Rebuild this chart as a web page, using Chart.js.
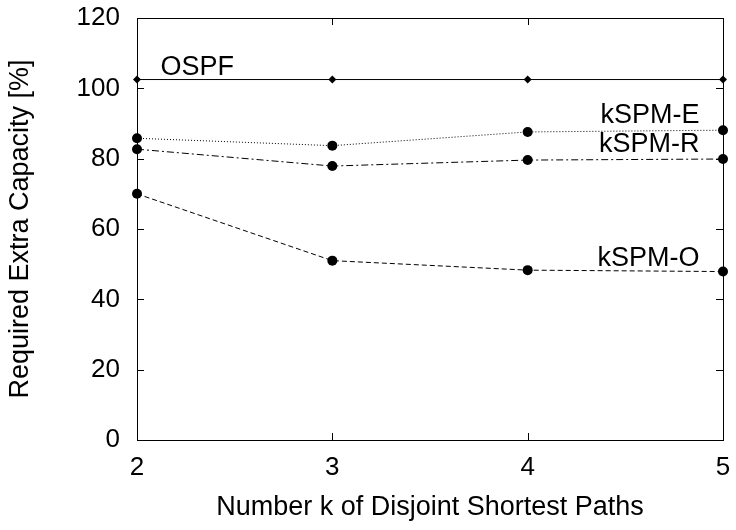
<!DOCTYPE html>
<html>
<head>
<meta charset="utf-8">
<script src="https://cdn.jsdelivr.net/npm/chart.js@4/dist/chart.umd.min.js"></script>
<style>
  html,body{margin:0;padding:0;background:#fff;}
  #wrap{width:736px;height:530px;}
</style>
</head>
<body>
<div id="wrap"><canvas id="chart"></canvas></div>
<script>
// k = number of disjoint shortest paths
const K_VALUES = [2, 3, 4, 5];
const OSPF   = [102.5, 102.5, 102.5, 102.5];
const KSPM_E = [85.8, 83.7, 87.6, 88.1];
const KSPM_R = [82.7, 77.9, 79.6, 79.9];
const KSPM_O = [70.0, 51.0, 48.3, 47.9];
const Y_TICKS = [0, 20, 40, 60, 80, 100, 120];

// series captions, anchored in data coordinates
const CAPTIONS = [
  { text:"OSPF",   x:2.12, y:105.8, align:"left"  },
  { text:"kSPM-E", x:4.88, y:92.4,  align:"right" },
  { text:"kSPM-R", x:4.88, y:83.9,  align:"right" },
  { text:"kSPM-O", x:4.88, y:51.7,  align:"right" }
];

const FONT = "'Liberation Sans', Arial, Helvetica, sans-serif";
const pts = arr => arr.map((v,i)=>({x:K_VALUES[i], y:v}));

// frame with inward ticks on all four sides (gnuplot look)
const framePlugin = {
  id:"frame",
  afterDatasetsDraw(chart){
    const { ctx, chartArea:a, scales } = chart;
    ctx.save();
    ctx.strokeStyle="#000"; ctx.lineWidth=1;
    ctx.strokeRect(Math.round(a.left)+0.5, Math.round(a.top)+0.5,
                   Math.round(a.right-a.left), Math.round(a.bottom-a.top));
    const L=7;
    ctx.beginPath();
    Y_TICKS.forEach(v=>{
      const y=Math.round(scales.y.getPixelForValue(v))+0.5;
      ctx.moveTo(a.left,y); ctx.lineTo(a.left+L,y);
      ctx.moveTo(a.right,y); ctx.lineTo(a.right-L,y);
    });
    K_VALUES.forEach(v=>{
      const x=Math.round(scales.x.getPixelForValue(v))+0.5;
      ctx.moveTo(x,a.bottom); ctx.lineTo(x,a.bottom-L);
      ctx.moveTo(x,a.top); ctx.lineTo(x,a.top+L);
    });
    ctx.stroke();
    ctx.font="27px "+FONT; ctx.fillStyle="#000"; ctx.textBaseline="middle";
    CAPTIONS.forEach(c=>{
      ctx.textAlign=c.align;
      ctx.fillText(c.text, scales.x.getPixelForValue(c.x), scales.y.getPixelForValue(c.y));
    });
    ctx.restore();
  }
};

const base = { borderColor:"#000", backgroundColor:"#000", borderWidth:1,
  pointBackgroundColor:"#000", pointBorderColor:"#000", pointBorderWidth:0,
  tension:0, fill:false, clip:false };

new Chart(document.getElementById("chart"),{
  type:"line",
  data:{ datasets:[
    { ...base, label:"OSPF",   data:pts(OSPF),   pointStyle:"rectRot", pointRadius:4 },
    { ...base, label:"kSPM-E", data:pts(KSPM_E), borderDash:[1,2], pointStyle:"circle", pointRadius:5 },
    { ...base, label:"kSPM-R", data:pts(KSPM_R), borderDash:[7,3,2,3], pointStyle:"circle", pointRadius:5 },
    { ...base, label:"kSPM-O", data:pts(KSPM_O), borderDash:[5,3], pointStyle:"circle", pointRadius:5 }
  ]},
  options:{
    responsive:true, maintainAspectRatio:false, animation:false,
    layout:{ padding:{ top:18, right:13, left:0, bottom:0 }, autoPadding:false },
    plugins:{ legend:{ display:false }, tooltip:{ enabled:false } },
    scales:{
      x:{ type:"linear", min:2, max:5,
        grid:{ display:false, drawTicks:false }, border:{ display:false },
        ticks:{ stepSize:1, color:"#000", padding:12, font:{ family:FONT, size:26 } },
        title:{ display:true, text:"Number k of Disjoint Shortest Paths", color:"#000",
          font:{ family:FONT, size:27 }, padding:{ top:0, bottom:6 } },
        afterFit(s){ s.height=90; s.paddingLeft=0; s.paddingRight=0; }
      },
      y:{ min:0, max:120,
        grid:{ display:false, drawTicks:false }, border:{ display:false },
        ticks:{ stepSize:20, color:"#000", padding:17, font:{ family:FONT, size:26 } },
        title:{ display:true, text:"Required Extra Capacity [%]", color:"#000",
          font:{ family:FONT, size:27 }, padding:{ top:4, bottom:0 } },
        afterFit(s){ s.width=137; s.paddingTop=0; s.paddingBottom=0; }
      }
    }
  },
  plugins:[framePlugin]
});
</script>
</body>
</html>
